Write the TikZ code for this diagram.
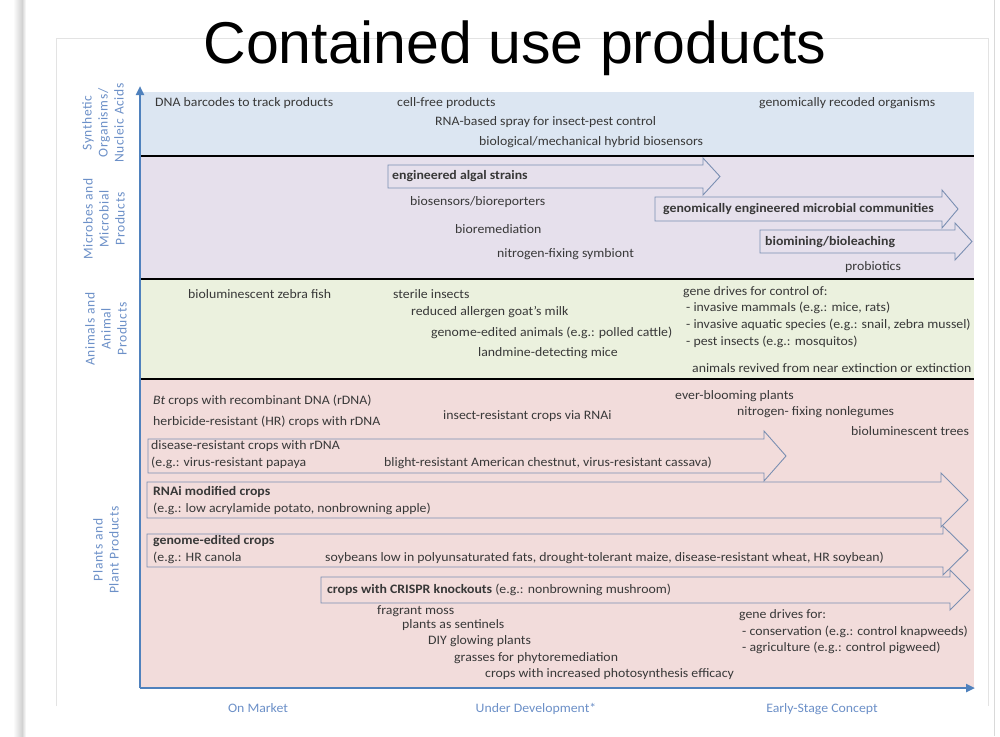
\documentclass[tikz,border=0pt]{standalone}
\usepackage{fontspec}
\setmainfont{Carlito}
\newfontfamily\titlefont{Liberation Sans}
\newfontfamily\bodyfont[FakeStretch=1.07]{Carlito}
\newfontfamily\sidefont[LetterSpace=5]{Carlito}
\usetikzlibrary{arrows.meta}
\definecolor{bandsyn}{HTML}{DCE6F2}
\definecolor{bandmic}{HTML}{E6E0EC}
\definecolor{bandani}{HTML}{EBF1DE}
\definecolor{bandpla}{HTML}{F2DCDB}
\definecolor{axisblue}{HTML}{4F81BD}
\definecolor{sideblue}{HTML}{6C90C8}
\definecolor{arrowblue}{HTML}{7A8FB2}
\definecolor{txt}{HTML}{383838}
\tikzset{
  item/.style={anchor=west, inner sep=0pt, text=txt, font=\fontsize{12.9}{15}\bodyfont},
  bolditem/.style={item, font=\fontsize{12.9}{15}\bodyfont\bfseries},
  sidelabel/.style={rotate=90, align=center, text=sideblue, inner sep=0pt, font=\fontsize{13.5}{16}\sidefont},
  axislabel/.style={anchor=base, text=sideblue, inner sep=0pt, font=\fontsize{12.9}{15}\bodyfont},
  fatarrow/.style={draw=arrowblue, line width=0.9pt},
  sepline/.style={line width=2.6pt, black},
  axisline/.style={draw=axisblue, line width=2.6pt, -{Triangle[length=9pt,width=8pt]}},
  frameline/.style={draw=gray!22, line width=0.8pt},
}
% #1 left x, #2 head base x, #3 tip x, #4 shaft top y, #5 shaft bottom y, #6 head overhang
\newcommand\FatArrow[6]{%
  \draw[fatarrow] (#1,#4) -- (#2,#4) -- (#2,{#4-#6}) -- (#3,{(#4+#5)/2})
    -- (#2,{#5+#6}) -- (#2,#5) -- (#1,#5) -- cycle;}
\begin{document}
\begin{tikzpicture}[x=1pt,y=-1pt]
\useasboundingbox (0,0) rectangle (1000,736);
\fill[white] (0,0) rectangle (1000,736);
% slide shadow and frame
\shade[left color=white, right color=gray!35] (13,0) rectangle (22,736);
\shade[left color=gray!35, right color=white] (22,0) rectangle (26,736);
\draw[draw=gray!30, line width=1pt] (994,0) -- (994,736);
\draw[frameline] (56,706) -- (56,38) -- (988,38) -- (988,706);
% bands
\fill[bandsyn] (140,92) rectangle (974,156);
\fill[bandmic] (140,156) rectangle (974,279);
\fill[bandani] (140,279) rectangle (974,379);
\fill[bandpla] (140,379) rectangle (974,688);
\draw[sepline] (140,156) -- (974,156);
\draw[sepline] (140,279) -- (974,279);
\draw[sepline] (140,379) -- (974,379);
% axes
\coordinate (origin) at (140,688);
\coordinate (ytop) at (140,86);
\coordinate (xend) at (975,688);
\draw[axisline] (origin) -- (ytop);
\draw[axisline] (origin) -- (xend);
% title
\node[inner sep=0pt, font=\fontsize{59}{60}\titlefont] (title) at (515,48) {Contained use products};
% side labels
\node[sidelabel] (lsyn) at (103,123) {Synthetic\\Organisms/\\Nucleic Acids};
\node[sidelabel] (lmic) at (104,219) {Microbes and\\Microbial\\Products};
\node[sidelabel] (lani) at (106,329) {Animals and\\Animal\\Products};
\node[sidelabel] (lpla) at (106,550) {Plants and\\Plant Products};
% axis labels
\node[axislabel] (xmarket) at (258,712) {On Market};
\node[axislabel] (xdev) at (536,712) {Under Development*};
\node[axislabel] (xconcept) at (822,712) {Early-Stage Concept};
% synthetic
\node[item] (s1) at (155,103) {DNA barcodes to track products};
\node[item] (s2) at (397,103) {cell-free products};
\node[item] (s3) at (435,122) {RNA-based spray for insect-pest control};
\node[item] (s4) at (479,142) {biological/mechanical hybrid biosensors};
\node[item] (s5) at (759,103) {genomically recoded organisms};
% microbes
\FatArrow{388}{703}{720}{165}{188}{7}
\FatArrow{655}{942}{958}{197}{221}{7}
\FatArrow{760}{955}{972}{230}{253}{7}
\node[bolditem] (m1) at (392,176) {engineered algal strains};
\node[item] (m2) at (410,202) {biosensors/bioreporters};
\node[bolditem] (m3) at (663,209) {genomically engineered microbial communities};
\node[item] (m4) at (455,229) {bioremediation};
\node[bolditem] (m5) at (765,242) {biomining/bioleaching};
\node[item] (m6) at (497,254) {nitrogen-fixing symbiont};
\node[item] (m7) at (845,267) {probiotics};
% animals
\node[item] (a1) at (188,294) {bioluminescent zebra fish};
\node[item] (a2) at (393,294) {sterile insects};
\node[item] (a3) at (411,312) {reduced allergen goat’s milk};
\node[item] (a4) at (431,333) {genome-edited animals (e.g.: polled cattle)};
\node[item] (a5) at (478,353) {landmine-detecting mice};
\node[item] (a6) at (683,292) {gene drives for control of:};
\node[item] (a7) at (686,308) {- invasive mammals (e.g.: mice, rats)};
\node[item] (a8) at (686,325) {- invasive aquatic species (e.g.: snail, zebra mussel)};
\node[item] (a9) at (686,342) {- pest insects (e.g.: mosquitos)};
\node[item] (a10) at (692,368) {animals revived from near extinction or extinction};
% plants
\FatArrow{148}{764}{786}{439}{473}{8}
\FatArrow{147}{941}{968}{482}{518}{9}
\FatArrow{147}{943}{968}{534}{567}{8}
\FatArrow{321}{950}{970}{577}{603}{7}
\node[item] (p1) at (153,401) {\textit{Bt} crops with recombinant DNA (rDNA)};
\node[item] (p2) at (153,422) {herbicide-resistant (HR) crops with rDNA};
\node[item] (p3) at (443,416) {insect-resistant crops via RNAi};
\node[item] (p4) at (675,396) {ever-blooming plants};
\node[item] (p5) at (737,412) {nitrogen- fixing nonlegumes};
\node[item] (p6) at (851,431) {bioluminescent trees};
\node[item] (p7) at (151,446) {disease-resistant crops with rDNA};
\node[item] (p8) at (151,463) {(e.g.: virus-resistant papaya};
\node[item] (p9) at (384,463) {blight-resistant American chestnut, virus-resistant cassava)};
\node[bolditem] (p10) at (153,492) {RNAi modified crops};
\node[item] (p11) at (153,509) {(e.g.: low acrylamide potato, nonbrowning apple)};
\node[bolditem] (p12) at (153,541) {genome-edited crops};
\node[item] (p13) at (153,558) {(e.g.: HR canola};
\node[item] (p14) at (325,558) {soybeans low in polyunsaturated fats, drought-tolerant maize, disease-resistant wheat, HR soybean)};
\node[item] (p15) at (327,590) {\textbf{crops with CRISPR knockouts} (e.g.: nonbrowning mushroom)};
\node[item] (p16) at (377,611) {fragrant moss};
\node[item] (p17) at (402,625) {plants as sentinels};
\node[item] (p18) at (428,641) {DIY glowing plants};
\node[item] (p19) at (454,658) {grasses for phytoremediation};
\node[item] (p20) at (485,674) {crops with increased photosynthesis efficacy};
\node[item] (p21) at (739,615) {gene drives for:};
\node[item] (p22) at (742,632) {- conservation (e.g.: control knapweeds)};
\node[item] (p23) at (742,648) {- agriculture (e.g.: control pigweed)};
\end{tikzpicture}
\end{document}
